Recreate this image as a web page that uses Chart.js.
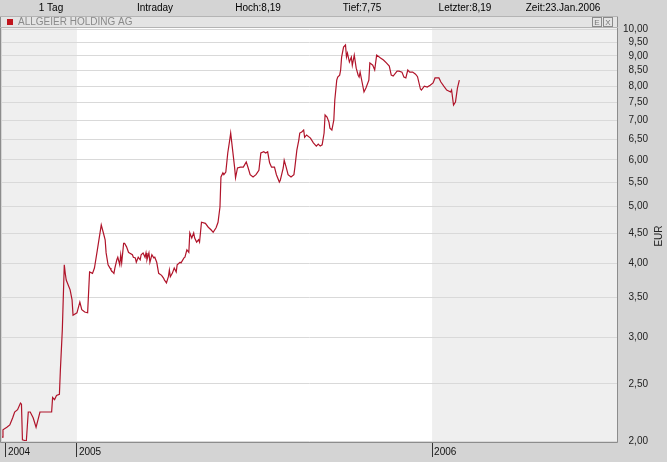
<!DOCTYPE html>
<html>
<head>
<meta charset="utf-8">
<script src="https://cdn.jsdelivr.net/npm/chart.js@4.4.0/dist/chart.umd.min.js"></script>
<style>
  html, body { margin: 0; padding: 0; background: #d4d4d4; }
  #wrap { width: 667px; height: 462px; position: relative; }
</style>
</head>
<body>
<div id="wrap"><canvas id="chart" width="667" height="462"></canvas></div>
<script>
// days counted from 1 Jan 2005
const days = [
  -77, -76, -72, -69, -66, -64, -61, -58, -57, -56, -52, -50, -48, -45, -42, -38, -26, -25, -23, -21,
  -18, -17, -15, -13, -12, -11, -7, -5, -4, 0, 3, 5, 8, 11, 13, 16, 18, 21, 25, 27,
  29, 30, 32, 34, 35, 38, 39, 41, 42, 44, 45, 46, 48, 49, 51, 53, 54, 57, 58, 60,
  61, 63, 65, 66, 68, 70, 71, 72, 74, 75, 77, 79, 80, 82, 84, 85, 87, 89, 90, 92,
  94, 95, 96, 98, 100, 102, 103, 106, 107, 110, 111, 113, 115, 116, 118, 120, 121, 123, 125, 126,
  128, 132, 135, 138, 140, 143, 145, 147, 148, 150, 151, 153, 155, 157, 158, 160, 162, 163, 165, 168,
  171, 174, 176, 178, 181, 184, 187, 189, 192, 194, 196, 198, 200, 203, 205, 208, 209, 212, 213, 215,
  217, 220, 223, 224, 226, 228, 229, 231, 233, 234, 236, 240, 243, 246, 248, 250, 252, 254, 255, 257,
  259, 260, 262, 264, 265, 267, 268, 270, 271, 272, 274, 276, 277, 278, 280, 282, 283, 285, 287, 289,
  290, 291, 293, 295, 297, 300, 301, 304, 306, 308, 312, 315, 318, 321, 323, 325, 329, 331, 334, 336,
  338, 340, 342, 345, 348, 350, 353, 354, 357, 360, 363, 366, 368, 372, 374, 377, 380, 384, 385, 387,
  389, 391, 393
];
const prices = [
  2.03, 2.09, 2.11, 2.13, 2.19, 2.24, 2.26, 2.32, 2.31, 2.01, 2.00, 2.24, 2.24, 2.19, 2.11, 2.24, 2.24, 2.37, 2.35, 2.39,
  2.40, 2.64, 3.09, 3.98, 3.85, 3.75, 3.61, 3.47, 3.27, 3.30, 3.44, 3.34, 3.31, 3.30, 3.87, 3.85, 3.93, 4.22, 4.65, 4.52,
  4.39, 4.17, 3.98, 3.93, 3.90, 3.85, 3.93, 4.06, 4.10, 3.98, 4.14, 4.01, 4.33, 4.33, 4.27, 4.18, 4.17, 4.14, 4.10, 4.09,
  4.02, 4.10, 4.06, 4.14, 4.17, 4.10, 4.17, 4.06, 4.17, 4.02, 4.14, 4.09, 4.10, 4.02, 3.85, 3.84, 3.82, 3.78, 3.75, 3.71,
  3.80, 3.90, 3.80, 3.85, 3.93, 3.87, 3.98, 4.02, 4.01, 4.09, 4.10, 4.22, 4.18, 4.51, 4.42, 4.51, 4.42, 4.35, 4.39, 4.35,
  4.70, 4.68, 4.61, 4.56, 4.52, 4.60, 4.70, 4.99, 5.61, 5.70, 5.66, 5.72, 6.16, 6.48, 6.66, 6.23, 5.83, 5.59, 5.81, 5.83,
  5.83, 5.95, 5.81, 5.66, 5.61, 5.66, 5.76, 6.16, 6.19, 6.16, 6.19, 5.93, 5.83, 5.83, 5.66, 5.50, 5.54, 5.81, 5.99, 5.83,
  5.66, 5.61, 5.66, 5.83, 6.23, 6.48, 6.66, 6.69, 6.74, 6.55, 6.61, 6.53, 6.41, 6.33, 6.38, 6.33, 6.36, 6.66, 7.15, 7.09,
  6.95, 6.79, 6.74, 7.01, 7.58, 8.19, 8.29, 8.35, 8.52, 8.96, 9.32, 9.40, 8.96, 9.10, 8.79, 8.96, 8.68, 9.03, 8.58, 8.35,
  8.29, 8.45, 8.13, 7.82, 7.94, 8.19, 8.76, 8.68, 8.52, 9.03, 8.93, 8.86, 8.76, 8.65, 8.35, 8.32, 8.48, 8.48, 8.45, 8.29,
  8.26, 8.52, 8.45, 8.45, 8.38, 8.30, 7.91, 7.88, 8.00, 7.97, 8.03, 8.10, 8.26, 8.26, 8.13, 8.00, 7.88, 7.82, 7.88, 7.43,
  7.52, 7.94, 8.19
];

const yTicks = [2, 2.5, 3, 3.5, 4, 4.5, 5, 5.5, 6, 6.5, 7, 7.5, 8, 8.5, 9, 9.5, 10];
const xTickDays = [-73, 0, 365];
const xTickLabels = ['2004', '2005', '2006'];
const shadedUntil = 0;     // 2004 shaded
const shadedFrom = 365;    // 2006 shaded
const headerTexts = ['1 Tag', 'Intraday', 'Hoch:8,19', 'Tief:7,75', 'Letzter:8,19', 'Zeit:23.Jan.2006'];
const headerCenters = [51, 155, 258, 362, 465, 563];
const title = 'ALLGEIER HOLDING AG';

const FONT = '"Liberation Sans", Arial, sans-serif';

const decor = {
    id: 'decor',
    beforeDraw(chart) {
        const ctx = chart.ctx;
        const area = chart.chartArea;
        const x = chart.scales.x;
        ctx.save();
        ctx.fillStyle = '#d4d4d4';
        ctx.fillRect(0, 0, chart.width, chart.height);

        // header line
        ctx.fillStyle = '#000';
        ctx.font = '10px ' + FONT;
        ctx.textAlign = 'center';
        ctx.textBaseline = 'middle';
        headerTexts.forEach((t, i) => ctx.fillText(t, headerCenters[i], 8));

        // title bar
        ctx.fillStyle = '#e4e4e4';
        ctx.fillRect(0, 16, area.right + 1, 12);
        ctx.fillStyle = '#c0141c';
        ctx.fillRect(7, 19, 6, 6);
        ctx.fillStyle = '#8a8a8a';
        ctx.textAlign = 'left';
        ctx.fillText(title, 18, 22.5);

        // small window buttons
        ctx.strokeStyle = '#8a8a8a';
        ctx.lineWidth = 1;
        ctx.strokeRect(592.5, 17.5, 9, 9);
        ctx.strokeRect(603.5, 17.5, 9, 9);
        ctx.font = '8px ' + FONT;
        ctx.textAlign = 'center';
        ctx.fillStyle = '#777';
        ctx.fillText('E', 597, 22.5);
        ctx.fillText('X', 608, 22.5);

        // plot background: white year with grey years on both sides
        const x0 = x.getPixelForValue(shadedUntil);
        const x1 = x.getPixelForValue(shadedFrom);
        ctx.fillStyle = '#efefef';
        ctx.fillRect(area.left, area.top - 1, area.right - area.left, area.bottom - area.top + 2);
        ctx.fillStyle = '#ffffff';
        ctx.fillRect(x0, area.top - 1, x1 - x0, area.bottom - area.top + 2);
        ctx.restore();
    },
    afterDraw(chart) {
        const ctx = chart.ctx;
        const area = chart.chartArea;
        ctx.save();
        ctx.strokeStyle = '#8c8c8c';
        ctx.lineWidth = 1;
        ctx.beginPath();
        ctx.moveTo(0.5, 16);
        ctx.lineTo(0.5, area.bottom + 1.5);
        ctx.lineTo(area.right + 0.5, area.bottom + 1.5);
        ctx.lineTo(area.right + 0.5, 16);
        ctx.stroke();
        ctx.strokeStyle = '#b4b4b4';
        ctx.beginPath();
        ctx.moveTo(0, 16.5);
        ctx.lineTo(area.right + 1, 16.5);
        ctx.moveTo(0, 27.5);
        ctx.lineTo(area.right + 1, 27.5);
        ctx.stroke();

        // EUR
        ctx.translate(659, 236);
        ctx.rotate(-Math.PI / 2);
        ctx.fillStyle = '#222';
        ctx.font = '10px ' + FONT;
        ctx.textAlign = 'center';
        ctx.textBaseline = 'middle';
        ctx.fillText('EUR', 0, 0);
        ctx.restore();
    }
};

new Chart(document.getElementById('chart'), {
    type: 'line',
    data: {
        datasets: [{
            data: days.map((d, i) => ({ x: d, y: prices[i] })),
            borderColor: '#b0142a',
            borderWidth: 1.2,
            pointRadius: 0,
            tension: 0,
            fill: false
        }]
    },
    options: {
        responsive: false,
        animation: false,
        devicePixelRatio: 1,
        layout: { padding: { left: 2, right: 19, top: 29, bottom: 0 } },
        plugins: { legend: { display: false }, tooltip: { enabled: false } },
        scales: {
            x: {
                type: 'linear',
                min: -77,
                max: 555,
                afterBuildTicks: s => { s.ticks = xTickDays.map(v => ({ value: v })); },
                afterFit: s => { s.height = 21; },
                grid: { drawOnChartArea: false, drawTicks: true, tickLength: 16, color: '#333' },
                border: { display: false },
                ticks: {
                    align: 'start',
                    labelOffset: 2,
                    padding: -11,
                    autoSkip: false,
                    maxRotation: 0,
                    color: '#111',
                    font: { family: FONT, size: 10 },
                    callback: v => xTickLabels[xTickDays.indexOf(v)]
                }
            },
            y: {
                type: 'logarithmic',
                position: 'right',
                min: 2,
                max: 10,
                afterBuildTicks: s => { s.ticks = yTicks.map(v => ({ value: v })); },
                afterFit: s => { s.width = 31; },
                grid: { color: '#d9d9d9', drawTicks: false },
                border: { display: false },
                ticks: {
                    crossAlign: 'far',
                    autoSkip: false,
                    padding: 0,
                    color: '#222',
                    font: { family: FONT, size: 10 },
                    callback: v => Number(v).toFixed(2).replace('.', ',')
                }
            }
        }
    },
    plugins: [decor]
});
</script>
</body>
</html>
